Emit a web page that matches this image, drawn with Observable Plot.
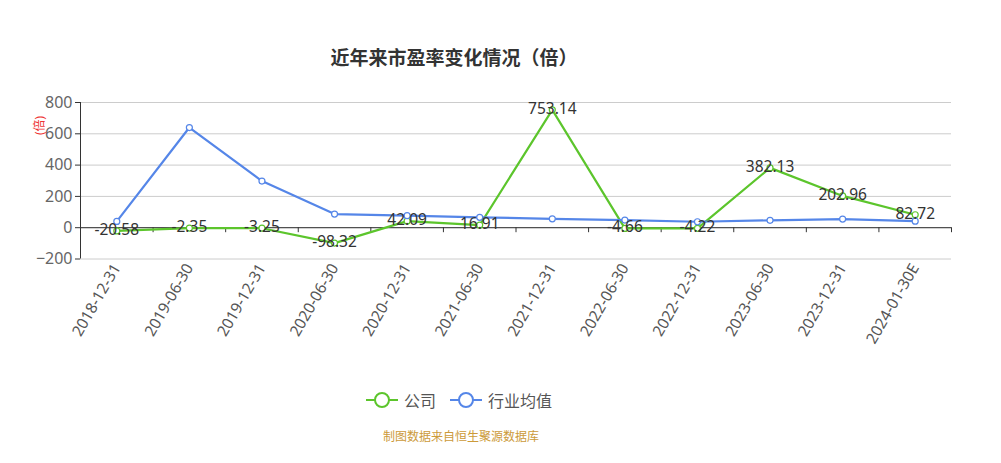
<!DOCTYPE html>
<html><head><meta charset="utf-8">
<script src="https://cdn.jsdelivr.net/npm/d3@7"></script>
<script src="https://cdn.jsdelivr.net/npm/@observablehq/plot@0.6"></script>
<style>
body{margin:0;background:#fff;font-family:"Noto Sans","Noto Sans CJK SC",sans-serif;}
#wrap{position:relative;width:1001px;height:463px;overflow:hidden;}
#title{position:absolute;left:0;width:908px;top:43px;text-align:center;font-size:19px;font-weight:bold;color:#333;font-family:"Noto Sans CJK SC",sans-serif;}
#chart{position:absolute;left:0;top:80px;}
#legend{position:absolute;top:388px;left:366px;display:flex;align-items:center;font-size:16px;color:#555;font-family:"Noto Sans CJK SC",sans-serif;}
#legend .item{display:flex;align-items:center;margin-right:14px;}
#legend svg{margin-right:6px;}
#caption{position:absolute;top:427px;left:0;width:922px;text-align:center;font-size:12px;color:#cc9a3a;font-family:"Noto Sans CJK SC",sans-serif;}
</style></head>
<body>
<div id="wrap">
<div id="title">近年来市盈率变化情况（倍）</div>
<div id="chart"></div>
<div id="legend"></div>
<div id="caption">制图数据来自恒生聚源数据库</div>
</div>
<script>
const dates = ["2018-12-31","2019-06-30","2019-12-31","2020-06-30","2020-12-31","2021-06-30","2021-12-31","2022-06-30","2022-12-31","2023-06-30","2023-12-31","2024-01-30E"];
const company = [-20.58,-2.35,-3.25,-98.32,42.09,16.91,753.14,-4.66,-4.22,382.13,202.96,82.72];
const industry = [40,640,298,87,77,66,57,49,38,47,55,42];
const yTicks = [-200,0,200,400,600,800];
const seriesNames = ["公司","行业均值"];
const colors = ["#5cc52c","#5586e8"];

const rows = (vals, name) => vals.map((v,i)=>({i, x:i+0.5, v, name, date:dates[i]}));
const comp = rows(company, seriesNames[0]);
const ind = rows(industry, seriesNames[1]);
const bounds = d3.range(dates.length+1);

const chart = Plot.plot({
  width:1001, height:300,
  marginLeft:80, marginRight:50, marginTop:22, marginBottom:121.5,
  style:{fontFamily:'"Noto Sans","Noto Sans CJK SC",sans-serif', background:"transparent"},
  x:{type:"linear", domain:[0,dates.length]},
  y:{domain:[-200,800]},
  marks:[
    Plot.gridY(yTicks,{stroke:"#ccc", strokeOpacity:1}),
    Plot.ruleY([0],{stroke:"#333", strokeWidth:1}),
    Plot.ruleX(bounds.slice(1),{y1:0,y2:0,insetBottom:-5,stroke:"#333"}),
    Plot.ruleX([0],{y1:-200,y2:800,stroke:"#333"}),
    Plot.axisY(yTicks,{tickSize:5, stroke:"#333", fontSize:16, fill:"#666", tickPadding:3, label:null}),
    Plot.axisX(comp.map(d=>d.x),{anchor:"bottom", tickSize:0, tickRotate:-60, tickFormat:d=>dates[Math.round(d-0.5)], fontSize:15.5, fill:"#555", tickPadding:6, label:null}),
    Plot.line(comp,{x:"x",y:"v",stroke:colors[0],strokeWidth:2.2}),
    Plot.dot(comp,{x:"x",y:"v",r:3,fill:"#fff",stroke:colors[0],strokeWidth:1.2}),
    Plot.line(ind,{x:"x",y:"v",stroke:colors[1],strokeWidth:2.2}),
    Plot.dot(ind,{x:"x",y:"v",r:3,fill:"#fff",stroke:colors[1],strokeWidth:1.2}),
    Plot.text(comp,{x:"x",y:"v",text:d=>d.v.toFixed(2),fontSize:15.5,fill:"#333",dy:-1,textAnchor:"middle",lineAnchor:"middle"}),
    Plot.text(["(倍)"],{frameAnchor:"top-left",dx:-45,dy:23,rotate:-90,fill:"#e33",fontSize:12,text:d=>d,textAnchor:"middle"})
  ]
});
document.getElementById("chart").appendChild(chart);

const legend = document.getElementById("legend");
seriesNames.forEach((n,k)=>{
  const item = document.createElement("div");
  item.className="item";
  item.innerHTML = `<svg width="32" height="18"><line x1="0" y1="9" x2="32" y2="9" stroke="${colors[k]}" stroke-width="2"/><circle cx="16" cy="9" r="7" fill="#fff" stroke="${colors[k]}" stroke-width="2"/></svg><span>${n}</span>`;
  legend.appendChild(item);
});
</script>
</body></html>
